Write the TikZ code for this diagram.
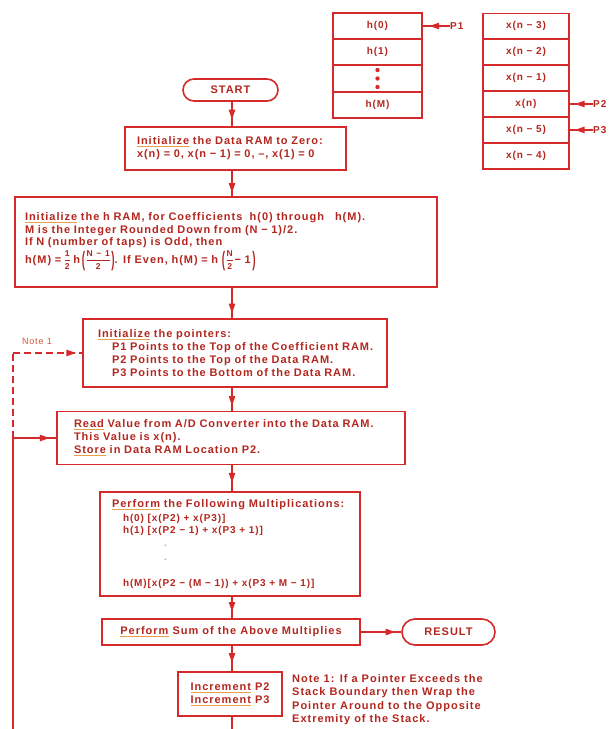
\documentclass[tikz,border=0pt]{standalone}
\usepackage{fontspec}
\setmainfont{Liberation Sans}[LetterSpace=9]
\usetikzlibrary{arrows.meta,decorations.markings}
\definecolor{lred}{HTML}{D62A2A}
\definecolor{tred}{HTML}{B3261E}
\definecolor{uor}{HTML}{E6A04A}
\definecolor{nred}{HTML}{D9553A}
\newcommand\uln[1]{\setbox0\hbox{#1}\rlap{\color{uor}\rule[-2.4pt]{\wd0}{0.9pt}}\box0\relax}
\newcommand\myfrac[2]{\ensuremath{\vcenter{\hbox{\fontsize{8.5}{8.5}\selectfont\setlength\tabcolsep{0pt}\renewcommand\arraystretch{1}\begin{tabular}{c}#1\\[1pt]\hline\rule{0pt}{9pt}#2\end{tabular}}}}}
\newcommand\lpar{\raisebox{-0.5ex}{\scalebox{0.9}[1.9]{(}}\kern1.5pt}
\newcommand\rpar{\kern1.5pt\raisebox{-0.5ex}{\scalebox{0.9}[1.9]{)}}}
\newcommand\oneline[1]{\mbox{#1}}
\begin{document}
\begin{tikzpicture}[x=1pt,y=-1pt,
  line/.style={draw=lred,color=lred,line width=1.6pt},
  box/.style={draw=lred,line width=1.6pt,inner sep=0pt,text=tred,font=\bfseries\fontsize{11}{12.8}\selectfont},
  pill/.style={box,rounded corners=11pt},
  cell/.style={draw=lred,line width=1.6pt,inner sep=0pt,text=tred,font=\bfseries\fontsize{10}{10}\selectfont},
  lbl/.style={text=tred,inner sep=0pt,font=\bfseries\fontsize{10}{11}\selectfont},
  arr/.style={line,postaction={decorate},decoration={markings,mark=at position #1 with {\fill[lred] (4pt,0) -- (-5.5pt,3.4pt) -- (-5.5pt,-3.4pt) -- cycle;}}},
  arr/.default=0.6,
  dsh/.style={dash pattern=on 7pt off 4pt}]
\useasboundingbox (0,0) rectangle (611,729);
\coordinate (mx) at (232,0);
\coordinate (lt) at (13,353);
\coordinate (lm) at (13,438);
\coordinate (lb) at (13,729);
\coordinate (mb) at (232,729);

% coefficient RAM
\node[cell,minimum width=89,minimum height=26] (h0) at (377.5,26) {h(0)};
\node[cell,minimum width=89,minimum height=26] (h1) at (377.5,52) {h(1)};
\node[cell,minimum width=89,minimum height=26.5] (hd) at (377.5,78.5) {};
\node[cell,minimum width=89,minimum height=26] (hm) at (377.5,105) {h(M)};
\fill[lred] (hd.center) ++(0,-8.5) circle (2.2) (hd.center) circle (2.2) (hd.center) ++(0,8.5) circle (2.2);

% data RAM
\node[cell,minimum width=86,minimum height=25.9] (x3) at (526,26.3) {x(n − 3)};
\node[cell,minimum width=86,minimum height=25.9] (x2) at (526,52.2) {x(n − 2)};
\node[cell,minimum width=86,minimum height=25.9] (x1) at (526,78.1) {x(n − 1)};
\node[cell,minimum width=86,minimum height=25.9] (xn) at (526,104) {x(n)};
\node[cell,minimum width=86,minimum height=25.9] (x5) at (526,129.9) {x(n − 5)};
\node[cell,minimum width=86,minimum height=25.9] (x4) at (526,155.8) {x(n − 4)};

\node[lbl,anchor=west] (p1) at (450,26) {P1};
\node[lbl,anchor=west] (p2) at (593,104) {P2};
\node[lbl,anchor=west] (p3) at (593,129.9) {P3};
\draw[arr=0.6] (p1.west) -- (h0.east);
\draw[arr=0.6] (p2.west) -- (xn.east);
\draw[arr=0.6] (p3.west) -- (x5.east);

% flow
\node[pill,minimum width=95,minimum height=22] (start) at (230.5,90) {START};
\node[box,minimum width=221,minimum height=43,text width=197,align=left] (init) at (235.5,148.5)
 {\oneline{\uln{Initialize} the Data RAM to Zero:}\\ \oneline{x(n) = 0, x(n − 1) = 0, –, x(1) = 0}};
\node[box,minimum width=422,minimum height=90,text width=402,align=left] (hram) at (226,242)
 {\oneline{\uln{Initialize} the h RAM, for Coefficients\ \ h(0) through\ \ \ h(M).}\\
  \oneline{M is the Integer Rounded Down from (N − 1)/2.}\\
  \oneline{If N (number of taps) is Odd, then}\\[1pt]
  \oneline{h(M) = \myfrac{1}{2}\ h\,\lpar\myfrac{N − 1}{2}\rpar. If Even, h(M) = h \lpar\myfrac{N}{2}\,− 1\rpar}};
\node[box,minimum width=304,minimum height=68,text width=274,align=left] (ptr) at (235,353)
 {\oneline{\uln{Initialize} the pointers:}\\
  \oneline{\hspace*{14pt}P1 Points to the Top of the Coefficient RAM.}\\
  \oneline{\hspace*{14pt}P2 Points to the Top of the Data RAM.}\\
  \oneline{\hspace*{14pt}P3 Points to the Bottom of the Data RAM.}};
\node[box,minimum width=348,minimum height=53,text width=314,align=left] (read) at (231,438)
 {\oneline{\uln{Read} Value from A/D Converter into the Data RAM.}\\
  \oneline{This Value is x(n).}\\
  \oneline{\uln{Store} in Data RAM Location P2.}};
\node[box,minimum width=260,minimum height=104,text width=236,align=left] (mult) at (230,544)
 {\oneline{\uln{Perform} the Following Multiplications:}\\[3pt]
  {\fontsize{10}{11.5}\selectfont
  \oneline{\hspace*{11pt}h(0) [x(P2) + x(P3)]}\\
  \oneline{\hspace*{11pt}h(1) [x(P2 − 1) + x(P3 + 1)]}\\[2pt]
  \oneline{\hspace*{52pt}\textcolor{uor}{.}}\\[2pt]
  \oneline{\hspace*{52pt}\textcolor{uor}{.}}\\[14pt]
  \oneline{\hspace*{11pt}h(M)[x(P2 − (M − 1)) + x(P3 + M − 1)]}}};
\node[box,minimum width=258,minimum height=26] (sum) at (231,632)
 {\uln{Perform} Sum of the Above Multiplies};
\node[pill,rounded corners=13pt,minimum width=93,minimum height=26] (result) at (448.5,632) {RESULT};
\node[box,minimum width=104,minimum height=44,align=center] (incr) at (230,694)
 {\uln{Increment} P2\\ \uln{Increment} P3};
\node[anchor=north west,inner sep=0pt,text=tred,align=left,font=\bfseries\fontsize{11}{13.6}\selectfont] (note) at (292,674)
 {Note 1: If a Pointer Exceeds the\\Stack Boundary then Wrap the\\Pointer Around to the Opposite\\Extremity of the Stack.};
\node[inner sep=0pt,text=nred,font=\fontsize{9}{10}\selectfont] (notelbl) at (37,341) {Note 1};

% connectors
\draw[arr=0.55] (start.south -| mx) -- (init.north -| mx);
\draw[arr=0.7] (init.south -| mx) -- (hram.north -| mx);
\draw[arr=0.7] (hram.south -| mx) -- (ptr.north -| mx);
\draw[arr=0.6] (ptr.south -| mx) -- (read.north -| mx);
\draw[arr=0.5] (read.south -| mx) -- (mult.north -| mx);
\draw[arr=0.5] (mult.south -| mx) -- (sum.north -| mx);
\draw[arr=0.5] (sum.south -| mx) -- (incr.north -| mx);
\draw[arr=0.75] (sum.east) -- (result.west);
\draw[line] (incr.south -| mx) -- (mb);
\draw[line,dsh] (lm) -- (lt);
\draw[arr=0.85,dsh] (lt) -- (ptr.west);
\draw[line] (lb) -- (lm);
\draw[arr=0.75] (lm) -- (read.west);
\end{tikzpicture}
\end{document}
